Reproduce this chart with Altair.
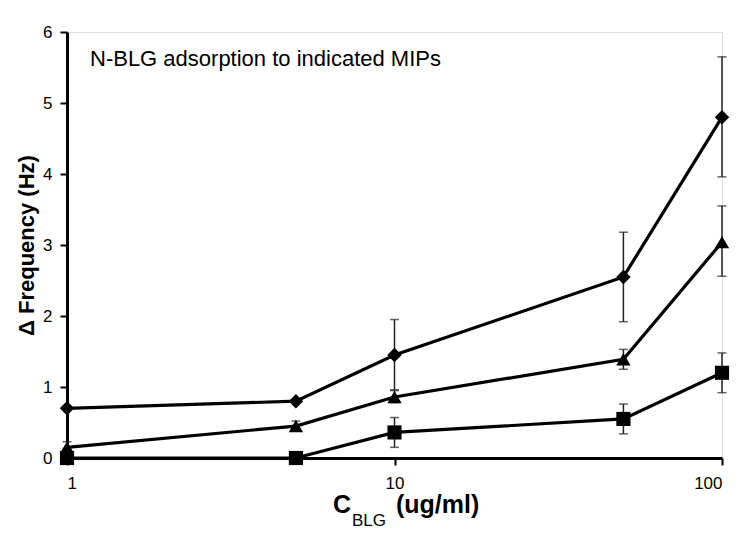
import altair as alt
import pandas as pd

conc = [1, 5, 10, 50, 100]
series = ["diamond", "triangle", "square"]
diamond_y = [0.7, 0.8, 1.45, 2.55, 4.8]
diamond_lo = [None, None, 0.96, 1.92, 3.96]
diamond_hi = [None, None, 1.95, 3.18, 5.65]
triangle_y = [0.15, 0.45, 0.86, 1.39, 3.04]
triangle_lo = [0.08, 0.40, 0.78, 1.25, 2.56]
triangle_hi = [0.23, 0.52, 0.95, 1.53, 3.55]
square_y = [0.0, 0.0, 0.36, 0.55, 1.2]
square_lo = [None, None, 0.15, 0.34, 0.92]
square_hi = [None, None, 0.57, 0.76, 1.48]

shapes = {"diamond": "diamond", "triangle": "triangle-up", "square": "square"}
marker_sizes = {"diamond": 210, "triangle": 200, "square": 150}

rows = []
for name, ys, los, his in [
    ("diamond", diamond_y, diamond_lo, diamond_hi),
    ("triangle", triangle_y, triangle_lo, triangle_hi),
    ("square", square_y, square_lo, square_hi),
]:
    for x, y, lo, hi in zip(conc, ys, los, his):
        rows.append({"series": name, "conc": x, "freq": y, "lo": lo, "hi": hi})
df = pd.DataFrame(rows)
err = df.dropna(subset=["lo", "hi"])

xscale = alt.Scale(type="log", domain=[1, 100])
yscale = alt.Scale(domain=[0, 6])

base = alt.Chart(df)

xax = alt.Axis(values=[1, 10, 100], title=None, labelFont="Liberation Sans", labelFontSize=17,
               labelColor="black", domainColor="black", domainWidth=3, tickColor="black",
               tickWidth=2, tickSize=7, grid=False, labelPadding=10, format="d")
yax = alt.Axis(values=[0, 1, 2, 3, 4, 5, 6], title="Δ Frequency (Hz)", titleFont="Liberation Sans",
               titleFontSize=22, titleFontWeight="bold", titleColor="black", titlePadding=4,
               labelFont="Liberation Sans", labelFontSize=17, labelColor="black",
               domainColor="black", domainWidth=3, tickColor="black", tickWidth=2, tickSize=7,
               grid=False, labelPadding=8, format="d")

lines = base.mark_line(color="black", strokeWidth=3.2).encode(
    x=alt.X("conc:Q", scale=xscale, axis=xax),
    y=alt.Y("freq:Q", scale=yscale, axis=yax),
    detail="series:N",
)

rules = alt.Chart(err).mark_rule(color="#222", strokeWidth=1.5).encode(
    x=alt.X("conc:Q", scale=xscale), y=alt.Y("lo:Q", scale=yscale), y2="hi:Q"
)
cap_lo = alt.Chart(err).mark_tick(color="#222", thickness=1.5, size=9, orient="horizontal").encode(
    x=alt.X("conc:Q", scale=xscale), y=alt.Y("lo:Q", scale=yscale)
)
cap_hi = alt.Chart(err).mark_tick(color="#222", thickness=1.5, size=9, orient="horizontal").encode(
    x=alt.X("conc:Q", scale=xscale), y=alt.Y("hi:Q", scale=yscale)
)

points = base.mark_point(filled=True, opacity=1, color="black").encode(
    x=alt.X("conc:Q", scale=xscale),
    y=alt.Y("freq:Q", scale=yscale),
    shape=alt.Shape("series:N", scale=alt.Scale(domain=series, range=[shapes[s] for s in series]), legend=None),
    size=alt.Size("series:N", scale=alt.Scale(domain=series, range=[marker_sizes[s] for s in series]), legend=None),
)

ann = alt.Chart(pd.DataFrame({"t": ["N-BLG adsorption to indicated MIPs"]})).mark_text(
    align="left", baseline="middle", font="Liberation Sans", fontSize=22, color="black"
).encode(text="t:N", x=alt.value(23), y=alt.value(27))

xt1 = alt.Chart(pd.DataFrame({"t": ["C"]})).mark_text(
    align="left", baseline="alphabetic", font="Liberation Sans", fontSize=25, fontWeight="bold", color="black"
).encode(text="t:N", x=alt.value(266), y=alt.value(481))
xt2 = alt.Chart(pd.DataFrame({"t": ["BLG"]})).mark_text(
    align="left", baseline="alphabetic", font="Liberation Sans", fontSize=17, color="black"
).encode(text="t:N", x=alt.value(285), y=alt.value(494))
xt3 = alt.Chart(pd.DataFrame({"t": ["(ug/ml)"]})).mark_text(
    align="left", baseline="alphabetic", font="Liberation Sans", fontSize=25, fontWeight="bold", color="black"
).encode(text="t:N", x=alt.value(329), y=alt.value(481))

chart = alt.layer(lines, rules, cap_lo, cap_hi, points, ann, xt1, xt2, xt3).properties(
    width=655, height=426,
    autosize=alt.AutoSizeParams(type="none"),
    padding={"left": 59, "top": 24, "right": 20, "bottom": 75},
).configure_view(stroke=None).configure(background="white")

chart.save("out.html", embed_options={"renderer": "svg", "actions": False})
